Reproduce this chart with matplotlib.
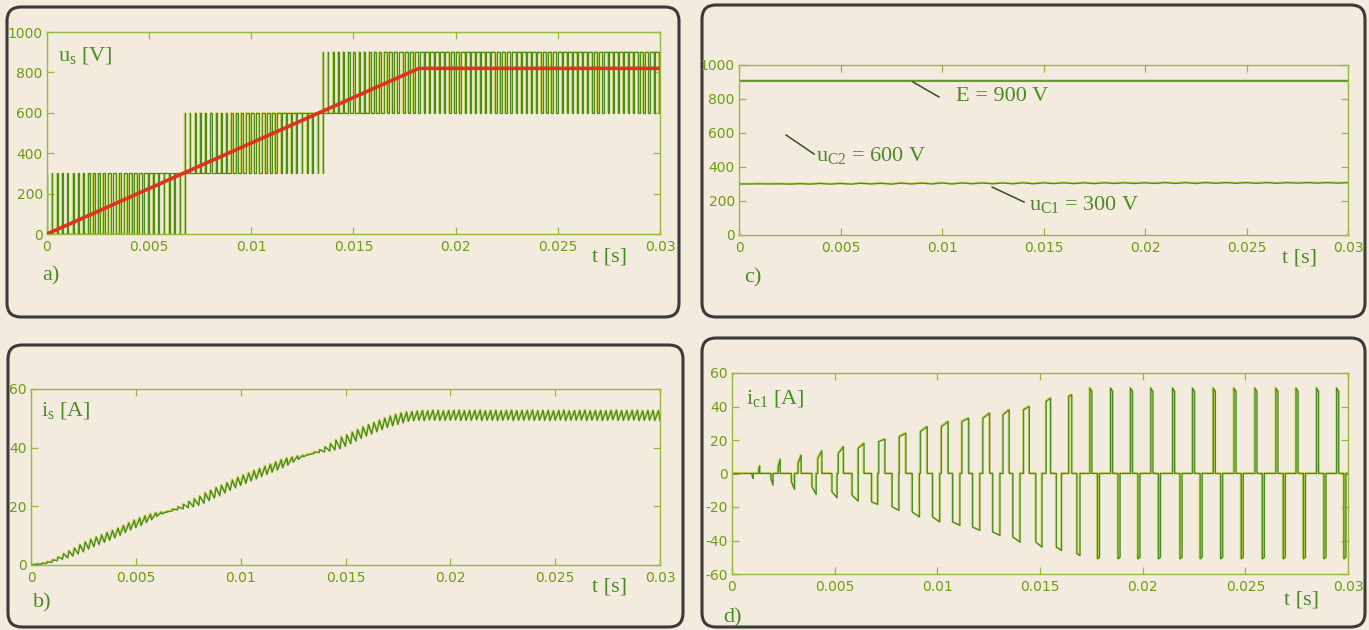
import numpy as np
import matplotlib
matplotlib.use("Agg")
import matplotlib.pyplot as plt
from matplotlib.patches import FancyBboxPatch
import matplotlib.transforms as mtransforms

# ------------------------------------------------------------------ data
t_ticks = [0, 0.005, 0.01, 0.015, 0.02, 0.025, 0.03]
t_tick_labels = ["0", "0.005", "0.01", "0.015", "0.02", "0.025", "0.03"]
us_ticks = [0, 200, 400, 600, 800, 1000]
uc_ticks = [0, 200, 400, 600, 800, 1000]
is_ticks = [0, 20, 40, 60]
ic_ticks = [-60, -40, -20, 0, 20, 40, 60]

# (a) inverter output voltage u_s : PWM, one duty value per carrier period
pwm_period = 0.00025
seg_low = [0, 300, 600]
seg_high = [300, 600, 900]
duty_seg1 = [0.02, 0.06, 0.09, 0.13, 0.17, 0.21, 0.24, 0.28, 0.32, 0.36,
             0.39, 0.43, 0.47, 0.51, 0.54, 0.58, 0.62, 0.66, 0.69, 0.73,
             0.77, 0.81, 0.84, 0.88, 0.92, 1.00, 1.00]
duty_seg2 = [0.03, 0.07, 0.11, 0.14, 0.18, 0.22, 0.26, 0.29, 0.33, 0.37,
             0.41, 0.44, 0.48, 0.52, 0.56, 0.59, 0.63, 0.67, 0.71, 0.74,
             0.78, 0.82, 0.86, 0.89, 0.93, 0.97, 1.00]
duty_seg3 = [0.04, 0.08, 0.12, 0.16, 0.19, 0.23, 0.27, 0.31, 0.34, 0.38,
             0.42, 0.46, 0.49, 0.53, 0.57, 0.61, 0.64, 0.68, 0.72, 0.73,
             0.73, 0.73, 0.73, 0.73, 0.73, 0.73, 0.73, 0.73, 0.73, 0.73,
             0.73, 0.73, 0.73, 0.73, 0.73, 0.73, 0.73, 0.73, 0.73, 0.73,
             0.73, 0.73, 0.73, 0.73, 0.73, 0.73, 0.73, 0.73, 0.73, 0.73,
             0.73, 0.73, 0.73, 0.73, 0.73, 0.73, 0.73, 0.73, 0.73, 0.73,
             0.73, 0.73, 0.73, 0.73, 0.73, 0.73]
ref_t = [0, 0.0182, 0.03]
ref_us = [0, 820, 820]

# (b) output current i_s : mean and half ripple per carrier period
is_mean = [0.05, 0.2, 0.4, 0.8, 1.3, 2.1, 2.9, 3.6, 4.4, 5.3,
           6.2, 7.1, 7.9, 8.6, 9.4, 10.1, 10.9, 11.8, 12.7, 13.6,
           14.4, 15.1, 15.9, 16.6, 17.3, 17.8, 18.3, 18.8, 19.3, 19.9,
           20.6, 21.2, 21.9, 22.8, 23.7, 24.6, 25.4, 26.3, 27.2, 28.1,
           28.9, 29.6, 30.4, 31.1, 31.9, 32.6, 33.4, 34.1, 34.8, 35.4,
           36.1, 36.7, 37.3, 37.8, 38.3, 38.8, 39.4, 40.1, 40.9, 41.6,
           42.4, 43.3, 44.2, 45.1, 45.9, 46.6, 47.4, 48.1, 48.8, 49.4,
           49.9, 50.3, 50.6, 50.8, 51.0, 50.9, 51.1, 51.0, 50.9, 51.0,
           51.0, 51.1, 50.9, 51.0, 51.0, 51.1, 50.9, 51.0, 51.0, 50.9,
           51.0, 51.1, 50.9, 51.0, 51.0, 51.1, 50.9, 51.0, 51.0, 50.9,
           51.0, 51.1, 50.9, 51.0, 51.0, 51.1, 50.9, 51.0, 51.0, 50.9,
           51.0, 51.1, 50.9, 51.0, 51.0, 51.1, 50.9, 51.0, 51.0, 50.9]
is_ripple = [0.05, 0.1, 0.2, 0.3, 0.45, 0.65, 0.95, 1.2, 1.4, 1.6,
             1.7, 1.7, 1.7, 1.7, 1.7, 1.7, 1.7, 1.7, 1.7, 1.7,
             1.7, 1.7, 1.5, 1.2, 0.8, 0.4, 0.2, 0.2, 0.5, 0.8,
             1.1, 1.4, 1.6, 1.8, 1.8, 1.8, 1.8, 1.8, 1.8, 1.8,
             1.8, 1.8, 1.8, 1.8, 1.8, 1.8, 1.8, 1.8, 1.7, 1.4,
             1.1, 0.7, 0.4, 0.2, 0.2, 0.5, 0.9, 1.3, 1.7, 2.0,
             2.0, 2.0, 2.0, 2.0, 2.0, 2.0, 2.0, 2.0, 2.0, 2.0,
             2.0, 1.9, 1.7, 1.7, 1.7, 1.7, 1.7, 1.7, 1.7, 1.7,
             1.7, 1.7, 1.7, 1.7, 1.7, 1.7, 1.7, 1.7, 1.7, 1.7,
             1.7, 1.7, 1.7, 1.7, 1.7, 1.7, 1.7, 1.7, 1.7, 1.7,
             1.7, 1.7, 1.7, 1.7, 1.7, 1.7, 1.7, 1.7, 1.7, 1.7,
             1.7, 1.7, 1.7, 1.7, 1.7, 1.7, 1.7, 1.7, 1.7, 1.7]

# (c) DC link voltages
E_t = [0, 0.03]
E_val = [906, 906]
uc1_val = [300, 300, 301, 300, 301, 299, 302, 299, 303, 299,
           303, 299, 304, 300, 304, 299, 305, 300, 305, 300,
           306, 300, 306, 301, 306, 301, 306, 301, 307, 301,
           307, 302, 307, 302, 307, 302, 307, 303, 307, 303,
           307, 303, 308, 303, 308, 303, 308, 304, 308, 304,
           308, 304, 308, 304, 308, 305, 308, 305, 308, 305, 308]

# (d) capacitor current i_c1 : positive and negative pulses
ic_pos_start = [0.0013, 0.00225, 0.00322, 0.00418, 0.00518, 0.00615, 0.00715,
                0.00815, 0.00918, 0.0102, 0.0112, 0.01222, 0.0132, 0.0142,
                0.0153, 0.0164, 0.01743, 0.01844, 0.01941, 0.0204, 0.02146,
                0.02243, 0.02344, 0.02445, 0.02547, 0.02649, 0.02747,
                0.02847, 0.02945]
ic_pos_width = [0.00005, 0.0001, 0.00015, 0.0002, 0.00025, 0.00028, 0.0003,
                0.00032, 0.00033, 0.00033, 0.00033, 0.00033, 0.0003, 0.00028,
                0.00022, 0.00015, 0.0001, 0.0001, 0.0001, 0.0001, 0.0001,
                0.0001, 0.0001, 0.0001, 0.0001, 0.0001, 0.0001, 0.0001, 0.0001]
ic_pos_a = [2, 4, 6, 9, 12, 15, 19, 22, 25, 28, 31, 33, 35, 38, 43, 46,
            51, 51, 51, 51, 51, 51, 51, 51, 51, 51, 51, 51, 51]
ic_pos_b = [4.5, 8.5, 11, 13.5, 16, 18, 20.5, 24, 28, 31, 33, 36, 38, 40, 45, 47,
            49, 49, 49, 49, 49, 49, 49, 49, 49, 49, 49, 49, 49]
ic_neg_start = [0.00098, 0.0019, 0.0029, 0.0039, 0.00487, 0.00585, 0.0068,
                0.0078, 0.00878, 0.00977, 0.01075, 0.01172, 0.0127, 0.01368,
                0.0148, 0.0158, 0.0168, 0.0178, 0.0188, 0.01977, 0.02077,
                0.02182, 0.0228, 0.0238, 0.0248, 0.02583, 0.02685, 0.02783,
                0.02883, 0.0298]
ic_neg_width = [0.00005, 0.0001, 0.00015, 0.0002, 0.00025, 0.0003, 0.0003,
                0.00033, 0.00035, 0.00035, 0.00035, 0.00035, 0.00035, 0.00035,
                0.0003, 0.00025, 0.00015, 0.0001, 0.0001, 0.0001, 0.0001,
                0.0001, 0.0001, 0.0001, 0.0001, 0.0001, 0.0001, 0.0001,
                0.0001, 0.0001]
ic_neg_a = [-1, -3, -5, -8, -11, -13, -17, -20, -23, -26, -29, -32, -35, -38,
            -41, -44, -48, -51, -51, -51, -51, -51, -51, -51, -51, -51, -51,
            -51, -51, -51]
ic_neg_b = [-3, -7, -9.5, -12.5, -14.5, -16.5, -18.5, -22, -26, -29, -31, -34,
            -37, -41, -44, -46, -49, -50, -50, -50, -50, -50, -50, -50, -50,
            -50, -50, -50, -50, -50]

# ------------------------------------------------------------------ style
W, H, DPI = 1369, 630, 100
page = "#f4ebdf"
green = "#4b8d1d"
halo = "#d2d84c"
txt_green = "#4a8a26"
tick_green = "#6e9c12"
spine_green = "#98b83c"
red = "#e0321e"

plt.rcParams["mathtext.fontset"] = "custom"
plt.rcParams["mathtext.rm"] = "Liberation Serif"
plt.rcParams["mathtext.it"] = "Liberation Serif:italic"

fig = plt.figure(figsize=(W / DPI, H / DPI), dpi=DPI, facecolor=page)

bg = fig.add_axes([0, 0, 1, 1], zorder=0)
bg.set_xlim(0, W)
bg.set_ylim(H, 0)
bg.axis("off")
boxes = [(7, 7, 679, 317), (8, 345, 683, 627), (702, 5, 1365, 317), (702, 338, 1365, 627)]
for x0, y0, x1, y1 in boxes:
    bg.add_patch(FancyBboxPatch((x0, y0), x1 - x0, y1 - y0,
                                boxstyle="round,pad=0,rounding_size=14",
                                fc=page, ec="#3a3a3a", lw=2.2))


def add_ax(x0, y0, x1, y1):
    return fig.add_axes([x0 / W, 1 - y1 / H, (x1 - x0) / W, (y1 - y0) / H],
                        zorder=2, facecolor="none")


def style(ax, yticks):
    ax.set_xlim(0, 0.03)
    ax.set_ylim(yticks[0], yticks[-1])
    ax.set_xticks(t_ticks)
    ax.set_xticklabels(t_tick_labels)
    ax.set_yticks(yticks)
    ax.set_yticklabels([str(v) for v in yticks])
    ax.tick_params(direction="in", length=5, width=0.9, color=spine_green,
                   top=True, right=True, labelsize=10, labelcolor=tick_green)
    ax.tick_params(axis="x", pad=4)
    ax.tick_params(axis="y", pad=3)
    for s in ax.spines.values():
        s.set_color(spine_green)
        s.set_linewidth(1.0)
    for lab in ax.get_xticklabels() + ax.get_yticklabels():
        lab.set_fontfamily("DejaVu Sans")


def gline(ax, x, y, lw=1.0, color=green):
    tr = mtransforms.offset_copy(ax.transData, fig=fig, x=-0.9, y=0.9, units="dots")
    ax.plot(x, y, color=halo, lw=lw, transform=tr, alpha=0.8)
    ax.plot(x, y, color=color, lw=lw)


def label(ax, x, y, s, ha="left", va="center", size=16):
    ax.text(x, y, s, transform=ax.transAxes, ha=ha, va=va, fontsize=size,
            color=txt_green, family="Liberation Serif", clip_on=False)


# ---------------- (a)
axa = add_ax(47, 32, 660, 234)
style(axa, us_ticks)
ts, vs = [], []
k = 0
duties_all = []
for low, high, duties in zip(seg_low, seg_high, [duty_seg1, duty_seg2, duty_seg3]):
    for d in duties:
        t0 = k * pwm_period
        t1 = t0 + d * pwm_period
        ts += [t0, t0, t1, t1]
        vs += [low, high, high, low]
        duties_all.append(d)
        k += 1
ts.append(k * pwm_period)
vs.append(vs[-1])
gline(axa, ts, vs, lw=0.9)
axa.plot(ref_t, ref_us, color=red, lw=2.6, solid_capstyle="butt", zorder=5)
label(axa, 0.018, 0.885, r"u$_\mathrm{s}$ [V]")
label(axa, 0.889, -0.115, "t [s]")
label(axa, -0.007, -0.205, "a)")

# ---------------- (b)
axb = add_ax(31, 389, 660, 565)
style(axb, is_ticks)
tb, ib = [], []
for k, (m, a) in enumerate(zip(is_mean, is_ripple)):
    t0 = k * pwm_period
    tb += [t0, t0 + duties_all[k] * pwm_period]
    ib += [m - a, m + a]
tb.append(len(is_mean) * pwm_period)
ib.append(is_mean[-1] - is_ripple[-1])
gline(axb, tb, ib, lw=1.0)
label(axb, 0.016, 0.88, r"i$_\mathrm{s}$ [A]")
label(axb, 0.892, -0.125, "t [s]")
label(axb, 0.003, -0.215, "b)")

# ---------------- (c)
axc = add_ax(739, 65, 1348, 235)
style(axc, uc_ticks)
gline(axc, E_t, E_val, lw=1.2)
gline(axc, np.linspace(0, 0.03, len(uc1_val)), uc1_val, lw=1.0)
ann = "#34521c"
axc.plot([0.00857, 0.00985], [900, 812], color=ann, lw=1.1)
axc.plot([0.00232, 0.0037], [588, 476], color=ann, lw=1.1)
axc.plot([0.01247, 0.01404], [282, 194], color=ann, lw=1.1)
axc.text(0.0107, 812, "E = 900 V", ha="left", va="center", fontsize=16,
         color=txt_green, family="Liberation Serif")
axc.text(0.0038, 470, r"u$_\mathrm{C2}$ = 600 V", ha="left", va="center", fontsize=16,
         color=txt_green, family="Liberation Serif")
axc.text(0.0143, 182, r"u$_\mathrm{C1}$ = 300 V", ha="left", va="center", fontsize=16,
         color=txt_green, family="Liberation Serif")
label(axc, 0.892, -0.135, "t [s]")
label(axc, 0.008, -0.25, "c)")

# ---------------- (d)
axd = add_ax(732, 373, 1348, 574)
style(axd, ic_ticks)
pulses = list(zip(ic_pos_start, ic_pos_width, ic_pos_a, ic_pos_b)) + \
    list(zip(ic_neg_start, ic_neg_width, ic_neg_a, ic_neg_b))
pulses.sort(key=lambda p: p[0])
td, idv = [0.0], [0.0]
for s, w, a, b in pulses:
    td += [s, s, s + w, s + w]
    idv += [0, a, b, 0]
td.append(0.03)
idv.append(0)
gline(axd, td, idv, lw=1.0)
label(axd, 0.023, 0.875, r"i$_\mathrm{c1}$ [A]")
label(axd, 0.896, -0.13, "t [s]")
label(axd, -0.015, -0.22, "d)")

fig.savefig("out.png", dpi=DPI, facecolor=page)
